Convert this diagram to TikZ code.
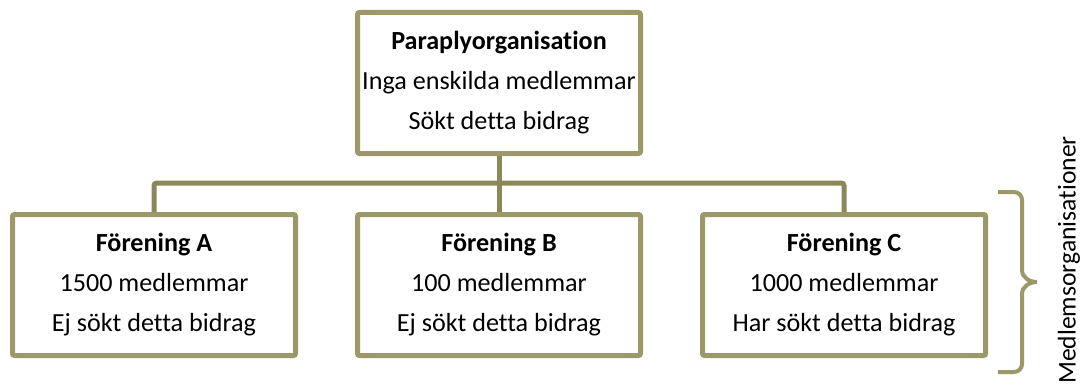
\documentclass[tikz,border=0pt]{standalone}
\usepackage{fontspec}
\setmainfont{Carlito}[Ligatures=NoCommon]
\usetikzlibrary{positioning}

\definecolor{boxolive}{RGB}{155,153,106}
\definecolor{lineolive}{RGB}{138,136,90}

\tikzstyle{block} = [rectangle, draw=boxolive, line width=3.75pt, rounded corners=1.5pt, minimum width=212.25pt, minimum height=105.75pt, inner sep=0pt, align=center, font=\fontsize{19.6}{30}\selectfont]
\tikzstyle{link} = [draw=lineolive, line width=3.75pt]

\begin{document}
\begin{tikzpicture}[x=0.75pt,y=0.75pt]
        \tikzset{node distance = 42pt and 42.75pt}
        \useasboundingbox (0,0) rectangle (1087,-392);
        % Umbrella organisation on top
        \node (top) at (499,-83) [block] {
            \textbf{Paraplyorganisation}\\
            Inga enskilda medlemmar\\
            Sökt detta bidrag
};
        % Member associations in one row
        \node (forB) [block, below=of top] {
            \textbf{Förening B}\\
            100 medlemmar\\
            Ej sökt detta bidrag
};
        \node (forA) [block, left=of forB] {
            \textbf{Förening A}\\
            1500 medlemmar\\
            Ej sökt detta bidrag
};
        \node (forC) [block, right=of forB] {
            \textbf{Förening C}\\
            1000 medlemmar\\
            Har sökt detta bidrag
};
        % Tree lines
        \path (top.south) ++(0,-27) coordinate (bus);
        \draw[link] (top.south) -- (forB.north);
        \draw[link, rounded corners=2pt] (forA.north) |- (bus) -| (forC.north);
        % Brace with side label
        \draw[draw=boxolive, line width=3pt] (998,-192) -- (1014,-192) to[out=0,in=90] (1022,-200) -- (1022,-270)
            to[out=-90,in=180] (1037,-282) to[out=180,in=90] (1022,-294) -- (1022,-364)
            to[out=-90,in=0] (1014,-372) -- (998,-372);
        \node (members) at (1069,-260) [rotate=90, inner sep=0pt, font=\fontsize{19.2}{23}\selectfont] {Medlemsorganisationer};
    \end{tikzpicture}
\end{document}
